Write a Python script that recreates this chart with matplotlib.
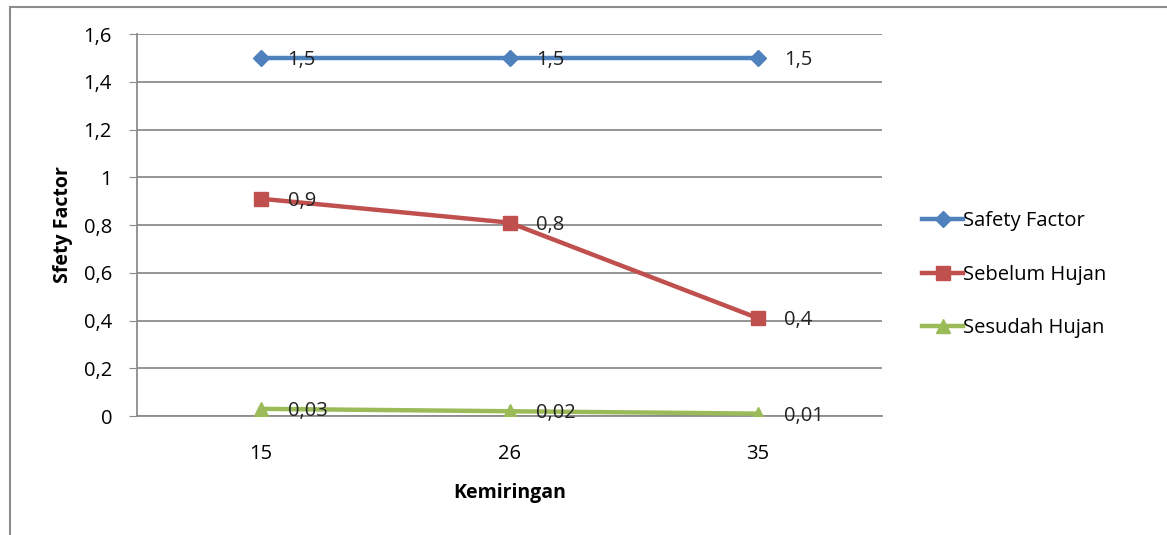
import numpy as np
import matplotlib.pyplot as plt
from matplotlib.patches import Rectangle
from matplotlib.ticker import FuncFormatter

plt.rcParams['font.family'] = ['Open Sans', 'DejaVu Sans']

kemiringan = ['15', '26', '35']
safety_factor = [1.5, 1.5, 1.5]
sebelum_hujan = [0.91, 0.81, 0.41]
sesudah_hujan = [0.03, 0.02, 0.01]
label_sf = ['1,5', '1,5', '1,5']
label_sebelum = ['0,9', '0,8', '0,4']
label_sesudah = ['0,03', '0,02', '0,01']

fig = plt.figure(figsize=(11.67, 5.35), dpi=100)
ax = fig.add_axes([0.1174, 0.2224, 0.6384, 0.714])

# outer chart frame
fig.patches.append(Rectangle((10 / 1167, -0.1), 1.2, 1 - 7 / 535 + 0.1,
                             transform=fig.transFigure, fill=False,
                             edgecolor='#8c8c8c', linewidth=1.5))

x = np.arange(len(kemiringan))
series = [
    (safety_factor, label_sf, 'Safety Factor', '#4F81BD', 'D', 8),
    (sebelum_hujan, label_sebelum, 'Sebelum Hujan', '#C0504D', 's', 10),
    (sesudah_hujan, label_sesudah, 'Sesudah Hujan', '#9BBB59', '^', 10),
]
for vals, labs, name, col, mk, ms in series:
    ax.plot(x, vals, color=col, marker=mk, markersize=ms, linewidth=3.2,
            label=name, zorder=3)
    for xi, v, t in zip(x, vals, labs):
        ax.annotate(t, (xi, v), xytext=(19, -1.5), textcoords='offset points',
                    ha='left', va='center', fontsize=14.5, color='#222222',
                    zorder=4)

ax.set_xlim(-0.5, 2.5)
ax.set_ylim(0, 1.6)
ax.set_yticks(np.arange(0, 1.61, 0.2))
ax.yaxis.set_major_formatter(FuncFormatter(
    lambda v, p: ('%g' % round(v, 1)).replace('.', ',')))
ax.set_xticks(x)
ax.set_xticklabels(kemiringan)
ax.grid(axis='y', color='#8c8c8c', linewidth=1.3)
ax.set_axisbelow(True)
for s in ['top', 'right']:
    ax.spines[s].set_visible(False)
ax.spines['left'].set_color('#8c8c8c')
ax.spines['bottom'].set_color('#8c8c8c')
ax.spines['left'].set_linewidth(1.3)
ax.spines['bottom'].set_linewidth(1.3)
ax.tick_params(axis='y', length=6, color='#8c8c8c', labelsize=14.5, pad=12)
ax.tick_params(axis='x', length=0, labelsize=14.5, pad=20)

ax.set_ylabel('Sfety Factor', fontsize=14, fontweight='bold', labelpad=8)
ax.set_xlabel('Kemiringan', fontsize=14, fontweight='bold', labelpad=14)

ax.legend(loc='center left', bbox_to_anchor=(1.03, 0.37), frameon=False,
          fontsize=14.5, handlelength=2.0, handletextpad=0.0,
          labelspacing=1.65)

fig.savefig('out.png', dpi=100)
